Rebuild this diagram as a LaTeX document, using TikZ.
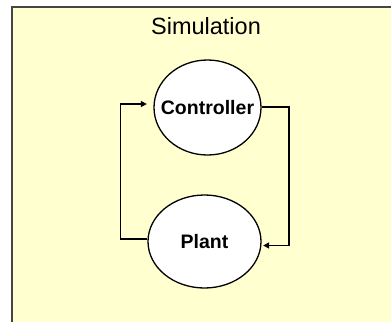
\documentclass[tikz,border=0pt]{standalone}
\usepackage{fontspec}
\setmainfont{Liberation Sans}
\usetikzlibrary{arrows.meta,shapes.geometric}
\definecolor{bgyellow}{RGB}{255,255,208}
\definecolor{framegray}{RGB}{70,70,70}
\begin{document}
\begin{tikzpicture}[x=1pt,y=-1pt,
  blob/.style={draw=black,line width=1.3pt,fill=white,ellipse,inner sep=0pt},
  blobtext/.style={font=\fontsize{19.5}{21}\selectfont\bfseries,inner sep=0pt},
  conn/.style={line width=1.6pt,-{Triangle[length=6pt,width=6pt]}},
  ]
\useasboundingbox (0,0) rectangle (391,322);
\fill[white] (0,0) rectangle (391,322);
\fill[bgyellow] (12,7) rectangle (391,322);
\draw[framegray,line width=1.6pt] (12,322) -- (12,7) -- (391,7);
\node[font=\fontsize{23.5}{25}\selectfont] (title) at (206,26) {Simulation};
\node[blob,minimum width=107pt,minimum height=95pt] (ctrl) at (207.5,107.5) {};
\node[blobtext] (ctrltext) at (ctrl.center) {Controller};
\node[blob,minimum width=113pt,minimum height=93pt] (plant) at (204.5,241.5) {};
\node[blobtext] (planttext) at (plant.center) {Plant};
\draw[conn] ([yshift=2.5pt]plant.west) -- ++(-27,0) |- ([xshift=-6.5pt,yshift=3.5pt]ctrl.west);
\draw[conn] ([yshift=0.5pt]ctrl.east) -- ++(27.5,0) |- ([xshift=1.5pt,yshift=-4pt]plant.east);
\end{tikzpicture}
\end{document}
